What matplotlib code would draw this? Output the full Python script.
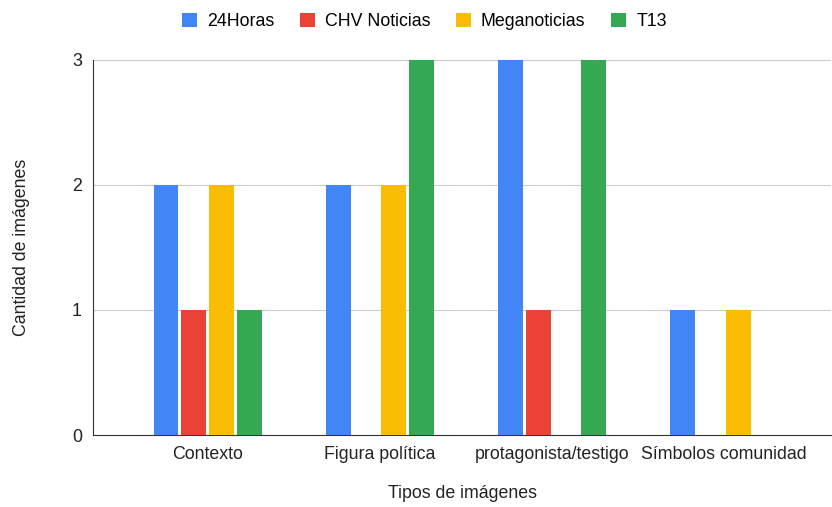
import matplotlib.pyplot as plt
import numpy as np

categories = ["Contexto", "Figura política", "protagonista/testigo", "Símbolos comunidad"]
series_names = ["24Horas", "CHV Noticias", "Meganoticias", "T13"]
horas24 = [2, 2, 3, 1]
chv = [1, 0, 1, 0]
mega = [2, 2, 0, 1]
t13 = [1, 3, 3, 0]
colors = ["#4285F4", "#EA4335", "#FBBC04", "#34A853"]

plt.rcParams['font.family'] = ['Liberation Sans', 'DejaVu Sans']
fs = 12.8

fig = plt.figure(figsize=(8.32, 5.07), dpi=100)
ax = fig.add_axes([0.1118, 0.142, 0.887, 0.7397])

x = np.arange(len(categories))
step = 0.162
width = 0.145
for i, (vals, name, c) in enumerate(zip([horas24, chv, mega, t13], series_names, colors)):
    ax.bar(x + (i - 1.5) * step, vals, width, color=c, label=name, zorder=3)

ax.set_xlim(-0.667, 3.62)
ax.set_ylim(0, 3)
ax.set_yticks([0, 1, 2, 3])
ax.set_xticks(x)
ax.set_xticklabels(categories, fontsize=fs, color="#222222")
ax.tick_params(axis='y', labelsize=fs, colors="#222222", length=0, pad=8)
ax.tick_params(axis='x', length=0, pad=8)
ax.grid(axis='y', color="#cccccc", linewidth=0.8, zorder=0)
for s in ['top', 'right']:
    ax.spines[s].set_visible(False)
ax.spines['left'].set_color("#333333")
ax.spines['bottom'].set_color("#333333")

ax.set_ylabel("Cantidad de imágenes", fontsize=fs, color="#222222", labelpad=30)
ax.set_xlabel("Tipos de imágenes", fontsize=fs, color="#222222", labelpad=16)

fig.legend(loc='upper center', bbox_to_anchor=(0.51, 1.006), ncol=4, frameon=False,
           fontsize=fs, handlelength=0.85, handleheight=0.85, columnspacing=1.45,
           handletextpad=0.55)

fig.savefig("out.png", dpi=100)
